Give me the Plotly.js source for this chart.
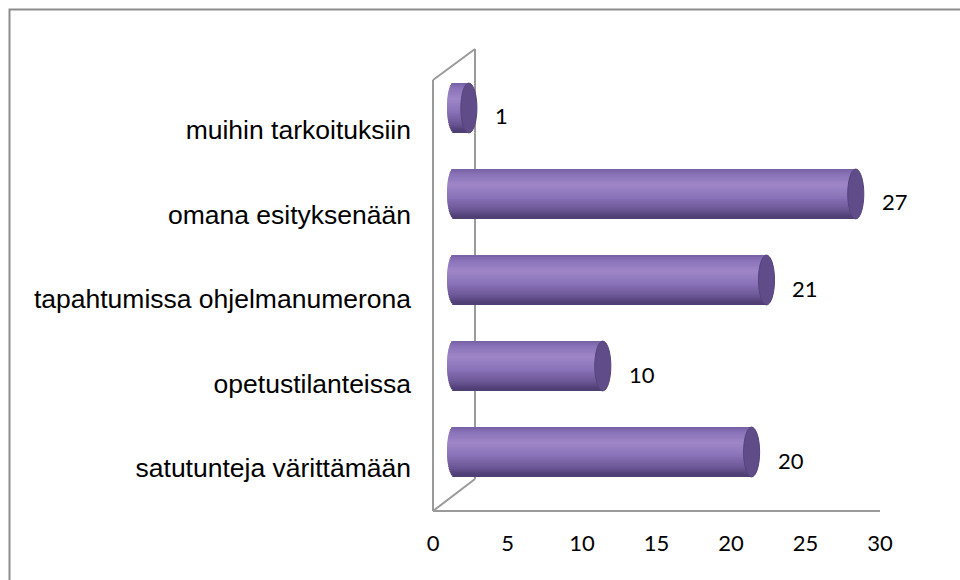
<!DOCTYPE html>
<html>
<head>
<meta charset="utf-8">
<script src="https://cdn.plot.ly/plotly-3.0.1.min.js"></script>
<style>html,body{margin:0;padding:0;background:#fff;}#chart{width:960px;height:580px;}</style>
</head>
<body>
<div id="chart"></div>
<script>
// Data (bottom to top, as drawn)
const categories = ["satutunteja värittämään", "opetustilanteissa", "tapahtumissa ohjelmanumerona", "omana esityksenään", "muihin tarkoituksiin"];
const values = [20, 10, 21, 27, 1];
const xTickVals = [0, 5, 10, 15, 20, 25, 30];

const W = 960, H = 580;
const px = v => v / W;
const py = v => 1 - v / H;

// cylinder geometry (styles)
const unitPx = 14.88;          // pixels per value unit on the bar plane
const barHalf = 0.29;          // half thickness in category units
const endA = 0.47;             // left-end curvature in value units
const capA = 0.54;             // cap half width in value units
const N = 30;
const stops = [
  [0.00, [112, 92, 158]],
  [0.15, [140, 116, 186]],
  [0.35, [158, 134, 200]],
  [0.60, [138, 115, 184]],
  [0.85, [106, 86, 148]],
  [1.00, [76, 60, 112]]
];
function grad(t) {
  for (let k = 0; k < stops.length - 1; k++) {
    const [t0, c0] = stops[k], [t1, c1] = stops[k + 1];
    if (t >= t0 && t <= t1) {
      const f = (t - t0) / (t1 - t0);
      return 'rgb(' + c0.map((c, j) => Math.round(c + (c1[j] - c) * f)).join(',') + ')';
    }
  }
  return 'rgb(76,60,112)';
}

const traces = [];
// invisible trace for the front axes
traces.push({
  type: 'scatter', mode: 'markers', x: values, y: categories,
  xaxis: 'x', yaxis: 'y', marker: {opacity: 0}, hoverinfo: 'skip', showlegend: false
});
const h = 2 * barHalf / N;
for (let i = 0; i < N; i++) {
  const tc = (i + 0.5) / N;
  const u = 1 - 2 * tc;
  const s = Math.sqrt(Math.max(0, 1 - u * u));
  const ext = i === 0 ? 0 : h * 0.9;
  traces.push({
    type: 'bar', orientation: 'h',
    y: categories,
    x: values.map(v => v + endA * s),
    base: values.map(() => -endA * s),
    offset: barHalf - (i + 1) * h,
    width: h + ext,
    xaxis: 'x2', yaxis: 'y2',
    marker: {color: grad(tc), line: {width: 0}},
    hoverinfo: 'skip', showlegend: false
  });
}

const lineStyle = {color: '#9a9a9a', width: 2};
const shapes = [
  // chart border
  {type: 'rect', xref: 'paper', yref: 'paper', x0: px(9.5), x1: px(980), y0: py(9.5), y1: py(600), line: {color: '#8c8c8c', width: 2}, layer: 'below'},
  // 3D frame
  {type: 'line', xref: 'paper', yref: 'paper', x0: px(433), y0: py(80), x1: px(433), y1: py(511), line: lineStyle, layer: 'below'},
  {type: 'line', xref: 'paper', yref: 'paper', x0: px(475), y0: py(49), x1: px(475), y1: py(479), line: lineStyle, layer: 'below'},
  {type: 'line', xref: 'paper', yref: 'paper', x0: px(433), y0: py(80), x1: px(475), y1: py(49), line: lineStyle, layer: 'below'},
  {type: 'line', xref: 'paper', yref: 'paper', x0: px(433), y0: py(511), x1: px(475), y1: py(479), line: lineStyle, layer: 'below'},
  {type: 'line', xref: 'paper', yref: 'paper', x0: px(433), y0: py(511), x1: px(880), y1: py(511), line: lineStyle, layer: 'below'}
];
// end caps
values.forEach((v, i) => {
  shapes.push({type: 'circle', xref: 'x2', yref: 'y2', x0: v - capA, x1: v + capA, y0: i - barHalf, y1: i + barHalf,
    fillcolor: '#5f4c88', line: {color: '#55447c', width: 1}, layer: 'above'});
});

const annotations = values.map((v, i) => ({
  xref: 'x2', yref: 'y2', x: v, y: categories[i], text: String(v), showarrow: false,
  xanchor: 'left', yanchor: 'middle', xshift: 24, yshift: -8,
  font: {family: 'Lato, "Open Sans", sans-serif', size: 22, color: '#000'}
}));

const x2Start = 454 - unitPx;   // bar plane: value 0 at x=454, range starts at -1
const layout = {
  width: W, height: H,
  margin: {l: 0, r: 0, t: 0, b: 0},
  paper_bgcolor: '#fff', plot_bgcolor: 'rgba(0,0,0,0)',
  showlegend: false,
  barmode: 'overlay',
  xaxis: {
    domain: [px(433), px(880)], range: [0, 30], tickvals: xTickVals,
    anchor: 'free', position: py(528), showline: false, showgrid: false, zeroline: false, ticks: '',
    tickfont: {family: 'Lato, "Open Sans", sans-serif', size: 22, color: '#000'}, fixedrange: true
  },
  yaxis: {
    domain: [py(510.5), py(87.5)], type: 'category', categoryorder: 'array', categoryarray: categories,
    range: [-0.5, 4.5], anchor: 'free', position: px(433), showline: false, showgrid: false, zeroline: false, ticks: '',
    ticklabelstandoff: 22,
    tickfont: {family: '"Liberation Sans", Arial, sans-serif', size: 26.5, color: '#000'}, fixedrange: true
  },
  xaxis2: {
    domain: [px(x2Start), px(454 + 30 * unitPx)], range: [-1, 30], anchor: 'y2', visible: false, fixedrange: true
  },
  yaxis2: {
    domain: [py(495), py(65)], type: 'category', categoryorder: 'array', categoryarray: categories,
    range: [-0.5, 4.5], anchor: 'x2', visible: false, fixedrange: true
  },
  shapes: shapes,
  annotations: annotations
};

Plotly.newPlot('chart', traces, layout, {displayModeBar: false, staticPlot: true});
</script>
</body>
</html>
